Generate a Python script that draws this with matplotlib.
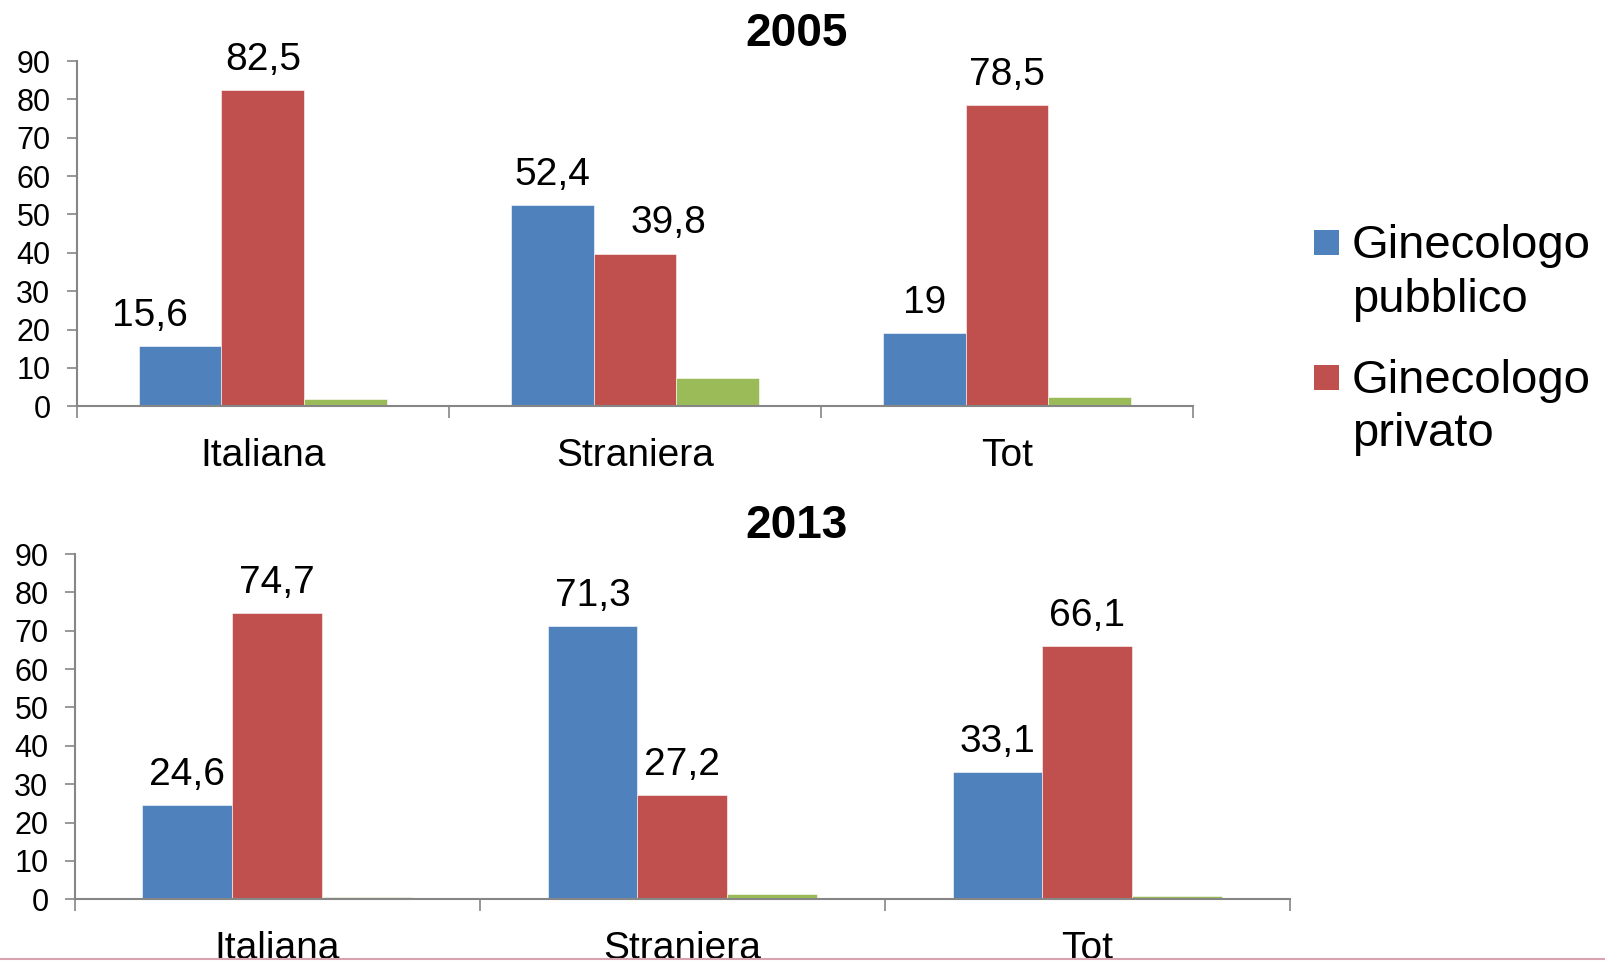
import matplotlib
matplotlib.use("Agg")
import matplotlib.pyplot as plt
from matplotlib.lines import Line2D
from matplotlib.patches import Rectangle
import numpy as np

plt.rcParams["font.family"] = ["Liberation Sans", "DejaVu Sans"]

categories = ["Italiana", "Straniera", "Tot"]
series_names = ["Ginecologo\npubblico", "Ginecologo\nprivato", "Altro"]
colors = ["#4F81BD", "#C0504D", "#9BBB59"]

pubblico_2005 = [15.6, 52.4, 19.0]
privato_2005 = [82.5, 39.8, 78.5]
altro_2005 = [1.9, 7.5, 2.4]

pubblico_2013 = [24.6, 71.3, 33.1]
privato_2013 = [74.7, 27.2, 66.1]
altro_2013 = [0.6, 1.5, 0.8]

yticks = [0, 10, 20, 30, 40, 50, 60, 70, 80, 90]

# excel nudged a couple of labels sideways to avoid overlaps (points)
nudge_2005 = {(0, 0): -22, (1, 1): 24}
nudge_2013 = {}

GRAY = "#868686"
W, H = 1606, 961


def fmt(v):
    s = f"{v:.1f}".replace(".", ",")
    return s[:-2] if s.endswith(",0") else s


def draw_panel(ax, data, title, nudge):
    x = np.arange(len(categories))
    w = 0.222
    for i, vals in enumerate(data):
        bars = ax.bar(x + (i - 1) * w, vals, w, color=colors[i],
                      edgecolor="white", linewidth=0.4, zorder=2)
        if i == 2:
            continue
        for j, b in enumerate(bars):
            dx = nudge.get((j, i), 0)
            ax.annotate(fmt(vals[j]),
                        (b.get_x() + b.get_width() / 2, b.get_height()),
                        xytext=(dx, 14.5), textcoords="offset points",
                        ha="center", va="baseline", fontsize=28)

    ax.set_xlim(-0.5, len(categories) - 0.5)
    ax.set_ylim(0, 90)
    ax.set_yticks(yticks)
    ax.set_xticks(x)
    ax.set_xticklabels(categories, fontsize=28)
    ax.set_xticks(np.arange(len(categories) + 1) - 0.5, minor=True)
    ax.tick_params(axis="x", which="major", length=0, pad=23)
    ax.tick_params(axis="x", which="minor", length=8.5, width=1.2, color=GRAY)
    ax.tick_params(axis="y", length=7, width=1.2, color=GRAY, pad=12,
                   labelsize=22)
    for s in ["top", "right"]:
        ax.spines[s].set_visible(False)
    for s in ["left", "bottom"]:
        ax.spines[s].set_color(GRAY)
        ax.spines[s].set_linewidth(1.5)
    ax.spines["left"].set_zorder(3)

    fig = ax.figure
    fig.text(797 / W, title_y[title], title, fontsize=33, fontweight="bold",
             ha="center", va="baseline")


title_y = {"2005": 1 - 46 / H, "2013": 1 - 538 / H}

fig = plt.figure(figsize=(16.06, 9.61), dpi=100)

ax1 = fig.add_axes([0.0478, 0.5772, 0.695, 0.3593])
draw_panel(ax1, [pubblico_2005, privato_2005, altro_2005], "2005", nudge_2005)

ax2 = fig.add_axes([0.0466, 0.0642, 0.7566, 0.3593])
draw_panel(ax2, [pubblico_2013, privato_2013, altro_2013], "2013", nudge_2013)

# legend drawn by hand: excel puts the swatch beside the first line
leg_top = [230, 365]
for i in range(2):
    y0 = leg_top[i]
    fig.add_artist(Rectangle((1314 / W, 1 - (y0 + 25) / H), 25 / W, 25 / H,
                             transform=fig.transFigure, facecolor=colors[i],
                             edgecolor="none"))
    for k, line in enumerate(series_names[i].split("\n")):
        fig.text(1352 / W, 1 - (y0 + 28 + k * 53.5) / H, line, fontsize=34,
                 ha="left", va="baseline")

fig.add_artist(Line2D([0, 1], [0.002, 0.002], transform=fig.transFigure,
                      color="#D8A3AE", linewidth=1.5))

fig.savefig("out.png", dpi=100)
